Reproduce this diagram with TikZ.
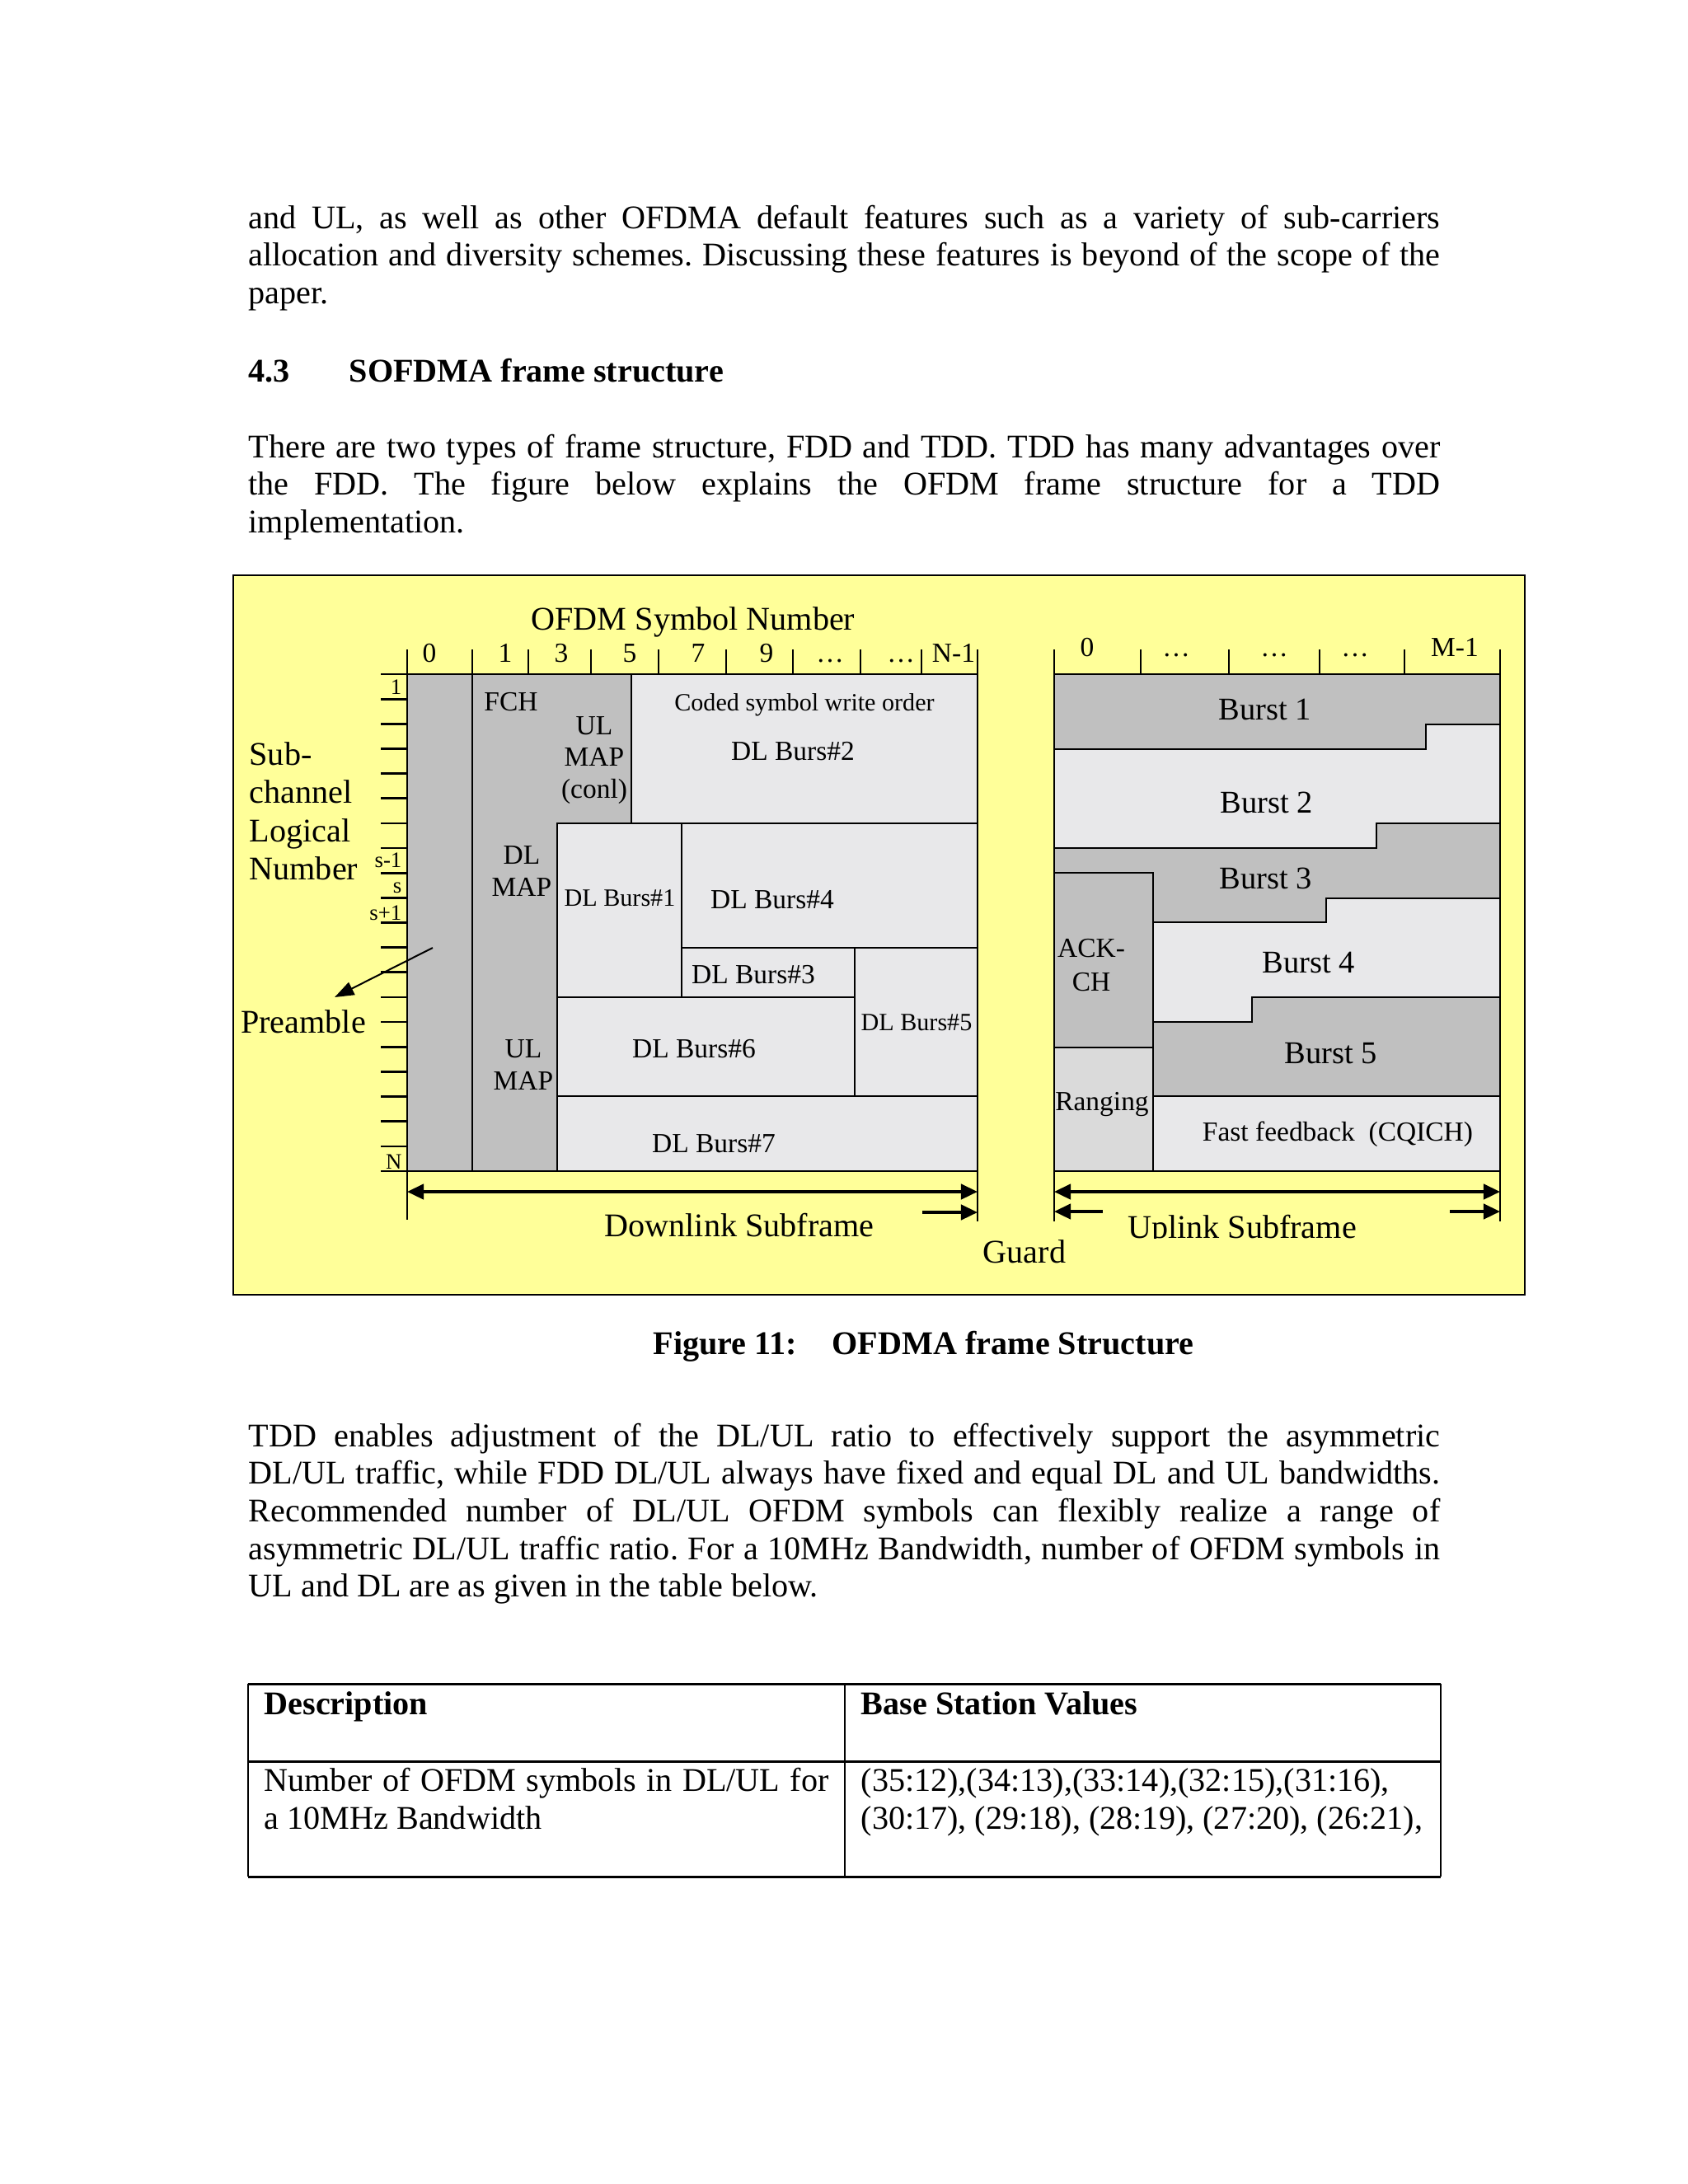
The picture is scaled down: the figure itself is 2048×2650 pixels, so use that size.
\documentclass[tikz,border=0pt]{standalone}
\usepackage{fontspec}
\setmainfont{Liberation Serif}
\usepackage{xcolor}
\usetikzlibrary{arrows.meta,positioning}

\definecolor{pageyellow}{HTML}{FFFF99}
\definecolor{darkcell}{HTML}{C0C0C0}
\definecolor{lightcell}{HTML}{E8E8EA}
\definecolor{rangecell}{HTML}{DADADA}
\newcommand{\ptsize}[2]{\fontsize{#1}{#2}\selectfont}
\frenchspacing

\begin{document}
\begin{tikzpicture}[x=0.298828pt,y=-0.298828pt,
    cell/.style={draw,line width=0.8pt},
    lab/.style={inner sep=0pt,anchor=base,font=\ptsize{10}{11.6}},
    biglab/.style={inner sep=0pt,anchor=base,font=\ptsize{12}{13.75}},
    burst/.style={inner sep=0pt,anchor=base,font=\ptsize{11.5}{13}},
    ticklab/.style={inner sep=0pt,anchor=base,font=\ptsize{10}{11}},
    rowlab/.style={inner sep=0pt,anchor=base east,font=\ptsize{8}{9}},
    bodyline/.style={inner sep=0pt,anchor=base west,font=\ptsize{12}{13.8}},
    >={Triangle[length=6pt,width=5.5pt]}]
  \useasboundingbox[fill=white] (0,0) rectangle (2048,2650);

  % text above the figure
  \foreach \txt [count=\i from 0] in {%
      {and UL, as well as other OFDMA default features such as a variety of sub-carriers},
      {allocation and diversity schemes. Discussing these features is beyond of the scope of the}}
    \node[bodyline] (intro\i) at (301,{277+45.7*\i}) {\makebox[432pt][s]{\txt}};
  \node[bodyline] (intro2) at (301,368.4) {paper.};
  \node[bodyline,font=\ptsize{12}{13.8}\bfseries] (secnum) at (301,463) {4.3};
  \node[bodyline,font=\ptsize{12}{13.8}\bfseries] (sectitle) at (423,463) {SOFDMA frame structure};
  \foreach \txt [count=\i from 0] in {%
      {There are two types of frame structure, FDD and TDD. TDD has many advantages over},
      {the FDD. The figure below explains the OFDM frame structure for a TDD}}
    \node[bodyline] (types\i) at (301,{555+45.7*\i}) {\makebox[432pt][s]{\txt}};
  \node[bodyline] (types2) at (301,646.4) {implementation.};

  % figure background
  \draw[fill=pageyellow,line width=0.8pt] (283,698) rectangle (1850,1571);

  % downlink subframe
  \draw[cell,fill=darkcell] (494,818) rectangle (573,1421);
  \draw[cell,fill=darkcell] (573,818) -- (766,818) -- (766,999) -- (676,999)
    -- (676,1421) -- (573,1421) -- cycle;
  \draw[cell,fill=lightcell] (766,818) rectangle (1186,999);
  \draw[cell,fill=lightcell] (676,999) rectangle (827,1210);
  \draw[cell,fill=lightcell] (827,999) rectangle (1186,1150);
  \draw[cell,fill=lightcell] (827,1150) rectangle (1037,1210);
  \draw[cell,fill=lightcell] (1037,1150) rectangle (1186,1330);
  \draw[cell,fill=lightcell] (676,1210) rectangle (1037,1330);
  \draw[cell,fill=lightcell] (676,1330) rectangle (1186,1421);

  % uplink subframe
  \draw[cell,fill=darkcell] (1279,818) -- (1820,818) -- (1820,879) -- (1730,879)
    -- (1730,909) -- (1279,909) -- cycle;
  \draw[cell,fill=lightcell] (1279,909) -- (1730,909) -- (1730,879) -- (1820,879)
    -- (1820,999) -- (1670,999) -- (1670,1029) -- (1279,1029) -- cycle;
  \draw[cell,fill=darkcell] (1279,1029) -- (1670,1029) -- (1670,999) -- (1820,999)
    -- (1820,1090) -- (1609,1090) -- (1609,1119) -- (1399,1119) -- (1399,1059)
    -- (1279,1059) -- cycle;
  \draw[cell,fill=darkcell] (1279,1059) rectangle (1399,1271);
  \draw[cell,fill=lightcell] (1399,1119) -- (1609,1119) -- (1609,1090) -- (1820,1090)
    -- (1820,1210) -- (1519,1210) -- (1519,1240) -- (1399,1240) -- cycle;
  \draw[cell,fill=darkcell] (1399,1240) -- (1519,1240) -- (1519,1210) -- (1820,1210)
    -- (1820,1330) -- (1399,1330) -- cycle;
  \draw[cell,fill=rangecell] (1279,1271) rectangle (1399,1421);
  \draw[cell,fill=lightcell] (1399,1330) rectangle (1820,1421);

  % symbol and sub-channel scales
  \draw[line width=0.8pt] (462,818) -- (494,818) (462,1421) -- (494,1421);
  \foreach \k in {1,...,19} \draw[line width=0.8pt] (462,{818+30.15*\k}) -- (494,{818+30.15*\k});
  \foreach \t in {494,573,641,717,799,881,962,1044,1118,1186} \draw[line width=0.8pt] (\t,788) -- (\t,818);
  \foreach \t in {1279,1384,1491,1601,1704,1820} \draw[line width=0.8pt] (\t,788) -- (\t,818);
  \foreach \x/\s [count=\i] in {521/0,613/1,681/3,764/5,847/7,930/9,1007/\dots,1093/\dots,1157/N-1}
    \node[ticklab] (dlsym\i) at (\x,803) {\s};
  \foreach \x/\s [count=\i] in {1319/0,1427/\dots,1546/\dots,1644/\dots,1765/M-1}
    \node[ticklab] (ulsym\i) at (\x,796) {\s};
  \foreach \y/\s [count=\i] in {842/1,1052/s-1,1083/s,1116/s+1,1418/N}
    \node[rowlab] (row\i) at (488,\y) {\s};

  % labels (multi-line nodes sit on their last line)
  \node[biglab] (symnum) at (841,764) {OFDM Symbol Number};
  \node[biglab,anchor=base west,align=left] (subch) at (302,1067) {Sub-\\channel\\Logical\\Number};
  \node[biglab] (pre) at (368,1253) {Preamble};
  \node[lab] (fch) at (620,862) {FCH};
  \node[lab,align=center,font=\ptsize{10}{11.4}] (ulmapc) at (721,968) {UL\\MAP\\(conl)};
  \node[lab,font=\ptsize{9}{10}] (order) at (976,862) {Coded symbol write order};
  \node[lab] (dl2) at (962,922) {DL Burs\#2};
  \node[lab,align=center] (dlmap) at (633,1087) {DL\\MAP};
  \node[lab,font=\ptsize{9}{10}] (dl1) at (752,1099) {DL Burs\#1};
  \node[lab] (dl4) at (937,1102) {DL Burs\#4};
  \node[lab] (dl3) at (914,1193) {DL Burs\#3};
  \node[lab,font=\ptsize{9}{10}] (dl5) at (1112,1250) {DL Burs\#5};
  \node[lab] (dl6) at (842,1283) {DL Burs\#6};
  \node[lab,align=center] (ulmap) at (635,1322) {UL\\MAP};
  \node[lab] (dl7) at (866,1398) {DL Burs\#7};
  \node[burst] (b1) at (1535,873) {Burst 1};
  \node[burst] (b2) at (1537,986) {Burst 2};
  \node[burst] (b3) at (1536,1078) {Burst 3};
  \node[burst] (b4) at (1588,1180) {Burst 4};
  \node[burst] (b5) at (1615,1290) {Burst 5};
  \node[lab,align=center,font=\ptsize{10}{12}] (ack) at (1324,1202) {ACK-\\CH};
  \node[lab] (rng) at (1337,1347) {Ranging};
  \node[lab] (cqich) at (1623,1384) {Fast feedback\ \ (CQICH)};
  \node[biglab] (guard) at (1243,1532) {Guard};
  \begin{scope}
    \clip (283,1300) rectangle (1850,1502);
    \node[biglab] (dlsub) at (897,1500) {Downlink Subframe};
    \node[biglab] (ulsub) at (1507,1502) {Uplink Subframe};
  \end{scope}

  % preamble pointer
  \coordinate (preA) at (525,1150);
  \coordinate (preB) at (406,1210);
  \draw[-{Triangle[length=7pt,width=5pt]},line width=0.6pt] (preA) -- (preB);

  % subframe extents
  \coordinate (dlL) at (494,1446);
  \coordinate (dlR) at (1186,1446);
  \coordinate (ulL) at (1279,1446);
  \coordinate (ulR) at (1820,1446);
  \draw[line width=0.6pt] (494,1421) -- (494,1480) (1186,1421) -- (1186,1482)
    (1279,1421) -- (1279,1482) (1820,1421) -- (1820,1482);
  \draw[<->,line width=1pt] (dlL) -- (dlR);
  \draw[<->,line width=1pt] (ulL) -- (ulR);
  \draw[->,line width=1pt] (1119,1471) -- (1186,1471);
  \draw[->,line width=1pt] (1338,1470) -- (1279,1470);
  \draw[->,line width=1pt] (1759,1470) -- (1820,1470);

  % caption
  \node[bodyline,font=\ptsize{12}{13.8}\bfseries] (capnum) at (792,1643) {Figure 11:};
  \node[bodyline,font=\ptsize{12}{13.8}\bfseries] (captxt) at (1009,1643) {OFDMA frame Structure};

  % text below the figure
  \foreach \txt [count=\i from 0] in {%
      {TDD enables adjustment of the DL/UL ratio to effectively support the asymmetric},
      {DL/UL traffic, while FDD DL/UL always have fixed and equal DL and UL bandwidths.},
      {Recommended number of DL/UL OFDM symbols can flexibly realize a range of},
      {asymmetric DL/UL traffic ratio. For a 10MHz Bandwidth, number of OFDM symbols in}}
    \node[bodyline] (tdd\i) at (301,{1755+45.7*\i}) {\makebox[432pt][s]{\txt}};
  \node[bodyline] (tdd4) at (301,1937.8) {UL and DL are as given in the table below.};

  % table
  \draw[line width=0.9pt] (301,2043) -- (1748,2043) (301,2137) -- (1748,2137) (301,2277) -- (1748,2277);
  \draw[line width=0.6pt] (301,2043) -- (301,2277) (1025,2043) -- (1025,2277) (1748,2043) -- (1748,2277);
  \node[bodyline,font=\ptsize{12}{13.8}\bfseries] (desc) at (320,2080) {Description};
  \node[bodyline,font=\ptsize{12}{13.8}\bfseries] (bsv) at (1044,2080) {Base Station Values};
  \node[bodyline] (num1) at (320,2173) {\makebox[204.7pt][s]{Number of OFDM symbols in DL/UL for}};
  \node[bodyline] (num2) at (320,2219) {a 10MHz Bandwidth};
  \node[bodyline] (val1) at (1044,2173) {(35:12),(34:13),(33:14),(32:15),(31:16),};
  \node[bodyline] (val2) at (1044,2219) {(30:17), (29:18), (28:19), (27:20), (26:21),};
\end{tikzpicture}
\end{document}
